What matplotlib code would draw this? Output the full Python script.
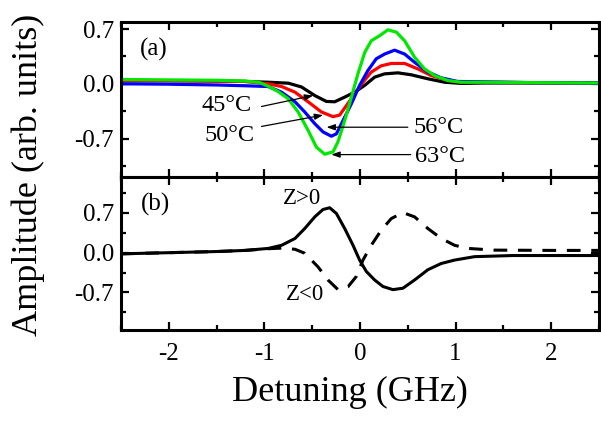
import matplotlib
matplotlib.use("Agg")
import matplotlib.pyplot as plt
from matplotlib.ticker import MultipleLocator, FixedLocator

plt.rcParams['font.family'] = ['Liberation Serif', 'DejaVu Serif']
plt.rcParams['axes.unicode_minus'] = False
plt.rcParams['mathtext.fontset'] = 'stix'

# ---------------- data (a) ----------------
x_green = [-2.5, -2.0, -1.5, -1.2, -1.06, -0.96, -0.856, -0.752, -0.647, -0.543, -0.456, -0.369,
           -0.282, -0.23, -0.16, -0.09, -0.021, 0.049, 0.118, 0.205, 0.292, 0.38, 0.467, 0.571,
           0.675, 0.78, 0.919, 1.06, 1.3, 1.8, 2.5]
y_green = [0.055, 0.05, 0.045, 0.035, 0.02, -0.03, -0.10, -0.19, -0.36, -0.595, -0.81, -0.90,
           -0.87, -0.74, -0.47, -0.17, 0.13, 0.40, 0.55, 0.615, 0.69, 0.66, 0.55, 0.34,
           0.19, 0.105, 0.042, 0.02, 0.02, 0.015, 0.01]

x_blue = [-2.5, -2.0, -1.5, -1.2, -0.96, -0.82, -0.68, -0.578, -0.473, -0.387, -0.30, -0.247,
          -0.178, -0.09, -0.004, 0.083, 0.17, 0.257, 0.362, 0.467, 0.571, 0.71, 0.85, 1.02,
          1.3, 1.8, 2.5]
y_blue = [0.0, -0.005, -0.015, -0.025, -0.035, -0.107, -0.23, -0.36, -0.51, -0.615, -0.67, -0.64,
          -0.47, -0.255, -0.02, 0.17, 0.32, 0.38, 0.43, 0.38, 0.275, 0.15, 0.076, 0.03,
          0.025, 0.015, 0.01]

x_red = [-2.5, -2.0, -1.5, -1.2, -0.96, -0.82, -0.68, -0.543, -0.404, -0.282, -0.213, -0.143,
         -0.056, 0.031, 0.118, 0.222, 0.327, 0.467, 0.606, 0.745, 0.92, 1.06, 1.3, 1.8, 2.5]
y_red = [0.04, 0.04, 0.035, 0.03, 0.0, -0.035, -0.107, -0.23, -0.36, -0.42, -0.40, -0.28,
         -0.13, 0.02, 0.15, 0.23, 0.26, 0.26, 0.19, 0.105, 0.042, 0.02, 0.02, 0.015, 0.01]

x_black = [-2.5, -2.0, -1.5, -1.2, -0.96, -0.75, -0.613, -0.473, -0.352, -0.265, -0.16, -0.056,
           0.049, 0.153, 0.257, 0.397, 0.536, 0.71, 0.885, 1.06, 1.3, 1.8, 2.5]
y_black = [0.04, 0.04, 0.035, 0.03, 0.02, 0.008, -0.04, -0.15, -0.225, -0.23, -0.17, -0.107,
           -0.02, 0.085, 0.127, 0.14, 0.115, 0.064, 0.02, 0.005, 0.01, 0.01, 0.01]

# ---------------- data (b) ----------------
x_zpos = [-2.5, -2.0, -1.5, -1.2, -0.96, -0.82, -0.68, -0.578, -0.473, -0.387, -0.317, -0.247,
          -0.16, -0.073, -0.004, 0.066, 0.153, 0.24, 0.344, 0.449, 0.571, 0.71, 0.85, 0.989,
          1.198, 1.6, 2.0, 2.5]
y_zpos = [-0.02, 0.0, 0.02, 0.04, 0.075, 0.13, 0.25, 0.425, 0.63, 0.76, 0.79, 0.69,
          0.425, 0.13, -0.13, -0.33, -0.48, -0.595, -0.65, -0.625, -0.48, -0.30, -0.19, -0.13,
          -0.07, -0.05, -0.05, -0.05]

x_zneg = [-2.5, -2.0, -1.5, -1.2, -0.96, -0.82, -0.68, -0.578, -0.439, -0.335, -0.23, -0.126,
          -0.039, 0.031, 0.118, 0.222, 0.327, 0.449, 0.571, 0.71, 0.85, 0.989, 1.13, 1.4,
          2.0, 2.5]
y_zneg = [-0.02, 0.0, 0.02, 0.04, 0.07, 0.08, 0.06, -0.01, -0.25, -0.48, -0.65, -0.60,
          -0.42, -0.13, 0.13, 0.395, 0.60, 0.705, 0.63, 0.425, 0.25, 0.13, 0.075, 0.045,
          0.04, 0.04]

temps = ['45°C', '50°C', '56°C', '63°C']
x_ticks = [-2, -1, 0, 1, 2]
y_ticks = [-0.7, 0.0, 0.7]
y_ticklabels = ['-0.7', '0.0', '0.7']

# ---------------- figure ----------------
fig = plt.figure(figsize=(6.01, 4.22), dpi=100)
axa = fig.add_axes([121/601, 1-176.5/422, 478/601, 154.5/422])
axb = fig.add_axes([121/601, 1-330/422, 478/601, 153.5/422])

lw = 2.3
axa.plot(x_black, y_black, color='black', lw=lw)
axa.plot(x_red, y_red, color='#ff0000', lw=lw)
axa.plot(x_blue, y_blue, color='#0000ff', lw=lw)
axa.plot(x_green, y_green, color='#00e800', lw=lw)

axb.plot(x_zneg, y_zneg, color='black', lw=2.2, dashes=(4.5, 3.5))
axb.plot(x_zpos, y_zpos, color='black', lw=2.2)

for ax, ylim in ((axa, (-1.185, 0.79)), (axb, (-1.36, 1.34))):
    ax.set_xlim(-2.5, 2.5)
    ax.set_ylim(*ylim)
    ax.xaxis.set_major_locator(FixedLocator(x_ticks))
    ax.xaxis.set_minor_locator(MultipleLocator(0.5))
    ax.yaxis.set_major_locator(FixedLocator(y_ticks))
    ax.yaxis.set_minor_locator(MultipleLocator(0.35))
    ax.set_yticklabels(y_ticklabels)
    ax.tick_params(which='both', direction='in', top=True, right=True, width=1.6,
                   labelsize=18, pad=5)
    ax.tick_params(which='major', length=5.5)
    ax.tick_params(which='minor', length=3.5)
    for s in ax.spines.values():
        s.set_linewidth(2.2)

axa.tick_params(labelbottom=False)
axb.set_xticklabels([str(t) for t in x_ticks])
axb.tick_params(axis='x', pad=9)

# annotations panel (a)
axa.text(-2.16, 0.44, '(a)', fontsize=18, ha='center', va='center')
arrow = dict(arrowstyle='-|>,head_length=0.5,head_width=0.18', color='black', lw=0.9,
             shrinkA=0, shrinkB=0)
axa.annotate('', xy=(-0.49, -0.15), xytext=(-1.03, -0.29), arrowprops=arrow)
axa.annotate('', xy=(-0.386, -0.40), xytext=(-1.03, -0.545), arrowprops=arrow)
axa.annotate('', xy=(-0.35, -0.555), xytext=(0.50, -0.555), arrowprops=arrow)
axa.annotate('', xy=(-0.30, -0.905), xytext=(0.53, -0.905), arrowprops=arrow)
axa.text(-1.40, -0.28, temps[0], fontsize=17.5, ha='center', va='center')
axa.text(-1.37, -0.66, temps[1], fontsize=17.5, ha='center', va='center')
axa.text(0.825, -0.556, temps[2], fontsize=17.5, ha='center', va='center')
axa.text(0.835, -0.925, temps[3], fontsize=17.5, ha='center', va='center')

# annotations panel (b)
axb.text(-2.14, 0.84, '(b)', fontsize=18, ha='center', va='center')
axb.text(-0.605, 0.96, 'Z>0', fontsize=16.5, ha='center', va='center')
axb.text(-0.575, -0.73, 'Z<0', fontsize=16.5, ha='center', va='center')

fig.text(0.047, 0.585, 'Amplitude (arb. units)', rotation=90, fontsize=26,
         ha='center', va='center')
fig.text(0.582, 0.069, 'Detuning (GHz)', fontsize=26, ha='center', va='center')

fig.savefig('out.png', dpi=100)
